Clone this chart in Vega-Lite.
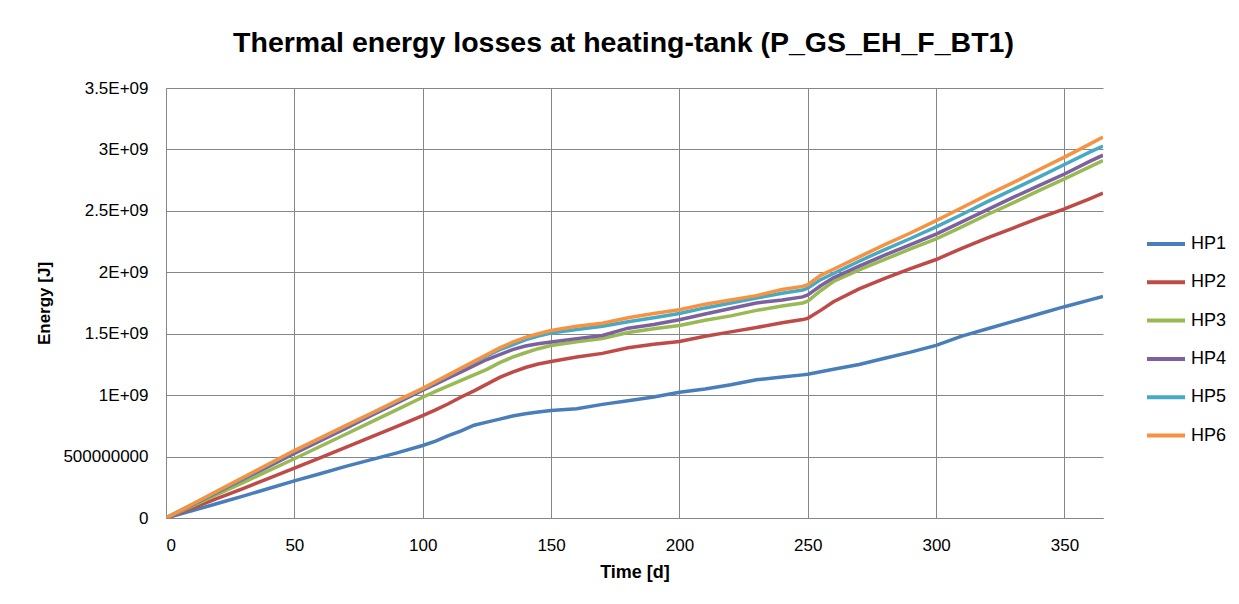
{
  "$schema": "https://vega.github.io/schema/vega-lite/v6.json",
  "width": 937,
  "height": 430,
  "autosize": {"type": "none"},
  "padding": {"left": 166, "top": 88, "right": 136, "bottom": 86},
  "background": "white",
  "title": {
    "text": "Thermal energy losses at heating-tank (P_GS_EH_F_BT1)",
    "font": "Liberation Sans",
    "fontSize": 28.5,
    "fontWeight": "bold",
    "color": "#000000",
    "anchor": "middle",
    "dx": -11,
    "offset": 22
  },
  "config": {
    "view": {"stroke": null},
    "font": "Liberation Sans"
  },
  "data": {
    "values": [
      {"d":0,"s":"HP1","e":0},{"d":10,"s":"HP1","e":0.058e9},{"d":20,"s":"HP1","e":0.118e9},{"d":30,"s":"HP1","e":0.178e9},{"d":40,"s":"HP1","e":0.24e9},{"d":50,"s":"HP1","e":0.302e9},{"d":60,"s":"HP1","e":0.36e9},{"d":70,"s":"HP1","e":0.42e9},{"d":80,"s":"HP1","e":0.475e9},{"d":90,"s":"HP1","e":0.53e9},{"d":100,"s":"HP1","e":0.59e9},{"d":105,"s":"HP1","e":0.625e9},{"d":110,"s":"HP1","e":0.67e9},{"d":115,"s":"HP1","e":0.71e9},{"d":120,"s":"HP1","e":0.755e9},{"d":125,"s":"HP1","e":0.78e9},{"d":130,"s":"HP1","e":0.805e9},{"d":135,"s":"HP1","e":0.83e9},{"d":140,"s":"HP1","e":0.848e9},{"d":145,"s":"HP1","e":0.862e9},{"d":150,"s":"HP1","e":0.875e9},{"d":160,"s":"HP1","e":0.89e9},{"d":170,"s":"HP1","e":0.925e9},{"d":180,"s":"HP1","e":0.955e9},{"d":190,"s":"HP1","e":0.985e9},{"d":200,"s":"HP1","e":1.024e9},{"d":210,"s":"HP1","e":1.05e9},{"d":220,"s":"HP1","e":1.085e9},{"d":230,"s":"HP1","e":1.125e9},{"d":240,"s":"HP1","e":1.148e9},{"d":248,"s":"HP1","e":1.165e9},{"d":250,"s":"HP1","e":1.17e9},{"d":255,"s":"HP1","e":1.19e9},{"d":260,"s":"HP1","e":1.21e9},{"d":270,"s":"HP1","e":1.25e9},{"d":280,"s":"HP1","e":1.3e9},{"d":290,"s":"HP1","e":1.35e9},{"d":300,"s":"HP1","e":1.405e9},{"d":310,"s":"HP1","e":1.48e9},{"d":320,"s":"HP1","e":1.54e9},{"d":330,"s":"HP1","e":1.6e9},{"d":340,"s":"HP1","e":1.66e9},{"d":350,"s":"HP1","e":1.72e9},{"d":360,"s":"HP1","e":1.775e9},{"d":365,"s":"HP1","e":1.803e9},

      {"d":0,"s":"HP2","e":0},{"d":10,"s":"HP2","e":0.078e9},{"d":20,"s":"HP2","e":0.16e9},{"d":30,"s":"HP2","e":0.24e9},{"d":40,"s":"HP2","e":0.322e9},{"d":50,"s":"HP2","e":0.405e9},{"d":60,"s":"HP2","e":0.49e9},{"d":70,"s":"HP2","e":0.575e9},{"d":80,"s":"HP2","e":0.66e9},{"d":90,"s":"HP2","e":0.745e9},{"d":100,"s":"HP2","e":0.834e9},{"d":105,"s":"HP2","e":0.88e9},{"d":110,"s":"HP2","e":0.93e9},{"d":115,"s":"HP2","e":0.985e9},{"d":120,"s":"HP2","e":1.035e9},{"d":125,"s":"HP2","e":1.09e9},{"d":130,"s":"HP2","e":1.145e9},{"d":135,"s":"HP2","e":1.187e9},{"d":140,"s":"HP2","e":1.225e9},{"d":145,"s":"HP2","e":1.253e9},{"d":150,"s":"HP2","e":1.274e9},{"d":160,"s":"HP2","e":1.31e9},{"d":170,"s":"HP2","e":1.34e9},{"d":180,"s":"HP2","e":1.385e9},{"d":190,"s":"HP2","e":1.415e9},{"d":200,"s":"HP2","e":1.437e9},{"d":210,"s":"HP2","e":1.48e9},{"d":220,"s":"HP2","e":1.515e9},{"d":230,"s":"HP2","e":1.55e9},{"d":240,"s":"HP2","e":1.59e9},{"d":248,"s":"HP2","e":1.615e9},{"d":250,"s":"HP2","e":1.625e9},{"d":255,"s":"HP2","e":1.69e9},{"d":260,"s":"HP2","e":1.76e9},{"d":270,"s":"HP2","e":1.865e9},{"d":280,"s":"HP2","e":1.95e9},{"d":290,"s":"HP2","e":2.03e9},{"d":300,"s":"HP2","e":2.104e9},{"d":310,"s":"HP2","e":2.195e9},{"d":320,"s":"HP2","e":2.28e9},{"d":330,"s":"HP2","e":2.36e9},{"d":340,"s":"HP2","e":2.44e9},{"d":350,"s":"HP2","e":2.517e9},{"d":360,"s":"HP2","e":2.6e9},{"d":365,"s":"HP2","e":2.644e9},

      {"d":0,"s":"HP3","e":0},{"d":10,"s":"HP3","e":0.095e9},{"d":20,"s":"HP3","e":0.192e9},{"d":30,"s":"HP3","e":0.288e9},{"d":40,"s":"HP3","e":0.385e9},{"d":50,"s":"HP3","e":0.482e9},{"d":60,"s":"HP3","e":0.582e9},{"d":70,"s":"HP3","e":0.682e9},{"d":80,"s":"HP3","e":0.782e9},{"d":90,"s":"HP3","e":0.882e9},{"d":100,"s":"HP3","e":0.983e9},{"d":105,"s":"HP3","e":1.03e9},{"d":110,"s":"HP3","e":1.075e9},{"d":115,"s":"HP3","e":1.12e9},{"d":120,"s":"HP3","e":1.165e9},{"d":125,"s":"HP3","e":1.21e9},{"d":130,"s":"HP3","e":1.265e9},{"d":135,"s":"HP3","e":1.309e9},{"d":140,"s":"HP3","e":1.345e9},{"d":145,"s":"HP3","e":1.378e9},{"d":150,"s":"HP3","e":1.404e9},{"d":160,"s":"HP3","e":1.435e9},{"d":170,"s":"HP3","e":1.46e9},{"d":180,"s":"HP3","e":1.51e9},{"d":190,"s":"HP3","e":1.54e9},{"d":200,"s":"HP3","e":1.567e9},{"d":210,"s":"HP3","e":1.61e9},{"d":220,"s":"HP3","e":1.645e9},{"d":230,"s":"HP3","e":1.69e9},{"d":240,"s":"HP3","e":1.725e9},{"d":248,"s":"HP3","e":1.75e9},{"d":250,"s":"HP3","e":1.765e9},{"d":255,"s":"HP3","e":1.85e9},{"d":260,"s":"HP3","e":1.925e9},{"d":270,"s":"HP3","e":2.02e9},{"d":280,"s":"HP3","e":2.105e9},{"d":290,"s":"HP3","e":2.19e9},{"d":300,"s":"HP3","e":2.272e9},{"d":310,"s":"HP3","e":2.37e9},{"d":320,"s":"HP3","e":2.47e9},{"d":330,"s":"HP3","e":2.565e9},{"d":340,"s":"HP3","e":2.665e9},{"d":350,"s":"HP3","e":2.761e9},{"d":360,"s":"HP3","e":2.86e9},{"d":365,"s":"HP3","e":2.91e9},

      {"d":0,"s":"HP4","e":0},{"d":10,"s":"HP4","e":0.105e9},{"d":20,"s":"HP4","e":0.21e9},{"d":30,"s":"HP4","e":0.315e9},{"d":40,"s":"HP4","e":0.42e9},{"d":50,"s":"HP4","e":0.525e9},{"d":60,"s":"HP4","e":0.628e9},{"d":70,"s":"HP4","e":0.73e9},{"d":80,"s":"HP4","e":0.835e9},{"d":90,"s":"HP4","e":0.937e9},{"d":100,"s":"HP4","e":1.04e9},{"d":105,"s":"HP4","e":1.09e9},{"d":110,"s":"HP4","e":1.14e9},{"d":115,"s":"HP4","e":1.19e9},{"d":120,"s":"HP4","e":1.24e9},{"d":125,"s":"HP4","e":1.29e9},{"d":130,"s":"HP4","e":1.33e9},{"d":135,"s":"HP4","e":1.37e9},{"d":140,"s":"HP4","e":1.4e9},{"d":145,"s":"HP4","e":1.418e9},{"d":150,"s":"HP4","e":1.432e9},{"d":160,"s":"HP4","e":1.46e9},{"d":170,"s":"HP4","e":1.485e9},{"d":180,"s":"HP4","e":1.545e9},{"d":190,"s":"HP4","e":1.575e9},{"d":200,"s":"HP4","e":1.614e9},{"d":210,"s":"HP4","e":1.66e9},{"d":220,"s":"HP4","e":1.705e9},{"d":230,"s":"HP4","e":1.75e9},{"d":240,"s":"HP4","e":1.775e9},{"d":248,"s":"HP4","e":1.8e9},{"d":250,"s":"HP4","e":1.815e9},{"d":255,"s":"HP4","e":1.89e9},{"d":260,"s":"HP4","e":1.955e9},{"d":270,"s":"HP4","e":2.05e9},{"d":280,"s":"HP4","e":2.14e9},{"d":290,"s":"HP4","e":2.225e9},{"d":300,"s":"HP4","e":2.31e9},{"d":310,"s":"HP4","e":2.41e9},{"d":320,"s":"HP4","e":2.51e9},{"d":330,"s":"HP4","e":2.61e9},{"d":340,"s":"HP4","e":2.705e9},{"d":350,"s":"HP4","e":2.8e9},{"d":360,"s":"HP4","e":2.905e9},{"d":365,"s":"HP4","e":2.953e9},

      {"d":0,"s":"HP5","e":0},{"d":10,"s":"HP5","e":0.108e9},{"d":20,"s":"HP5","e":0.217e9},{"d":30,"s":"HP5","e":0.325e9},{"d":40,"s":"HP5","e":0.435e9},{"d":50,"s":"HP5","e":0.545e9},{"d":60,"s":"HP5","e":0.645e9},{"d":70,"s":"HP5","e":0.748e9},{"d":80,"s":"HP5","e":0.85e9},{"d":90,"s":"HP5","e":0.95e9},{"d":100,"s":"HP5","e":1.05e9},{"d":105,"s":"HP5","e":1.105e9},{"d":110,"s":"HP5","e":1.16e9},{"d":115,"s":"HP5","e":1.215e9},{"d":120,"s":"HP5","e":1.27e9},{"d":125,"s":"HP5","e":1.32e9},{"d":130,"s":"HP5","e":1.37e9},{"d":135,"s":"HP5","e":1.41e9},{"d":140,"s":"HP5","e":1.45e9},{"d":145,"s":"HP5","e":1.48e9},{"d":150,"s":"HP5","e":1.505e9},{"d":160,"s":"HP5","e":1.535e9},{"d":170,"s":"HP5","e":1.56e9},{"d":180,"s":"HP5","e":1.598e9},{"d":190,"s":"HP5","e":1.63e9},{"d":200,"s":"HP5","e":1.665e9},{"d":210,"s":"HP5","e":1.71e9},{"d":220,"s":"HP5","e":1.75e9},{"d":230,"s":"HP5","e":1.79e9},{"d":240,"s":"HP5","e":1.83e9},{"d":248,"s":"HP5","e":1.855e9},{"d":250,"s":"HP5","e":1.87e9},{"d":255,"s":"HP5","e":1.94e9},{"d":260,"s":"HP5","e":1.99e9},{"d":270,"s":"HP5","e":2.09e9},{"d":280,"s":"HP5","e":2.185e9},{"d":290,"s":"HP5","e":2.275e9},{"d":300,"s":"HP5","e":2.37e9},{"d":310,"s":"HP5","e":2.47e9},{"d":320,"s":"HP5","e":2.575e9},{"d":330,"s":"HP5","e":2.675e9},{"d":340,"s":"HP5","e":2.775e9},{"d":350,"s":"HP5","e":2.877e9},{"d":360,"s":"HP5","e":2.98e9},{"d":365,"s":"HP5","e":3.028e9},

      {"d":0,"s":"HP6","e":0},{"d":10,"s":"HP6","e":0.11e9},{"d":20,"s":"HP6","e":0.22e9},{"d":30,"s":"HP6","e":0.33e9},{"d":40,"s":"HP6","e":0.44e9},{"d":50,"s":"HP6","e":0.549e9},{"d":60,"s":"HP6","e":0.65e9},{"d":70,"s":"HP6","e":0.752e9},{"d":80,"s":"HP6","e":0.853e9},{"d":90,"s":"HP6","e":0.955e9},{"d":100,"s":"HP6","e":1.055e9},{"d":105,"s":"HP6","e":1.11e9},{"d":110,"s":"HP6","e":1.165e9},{"d":115,"s":"HP6","e":1.22e9},{"d":120,"s":"HP6","e":1.275e9},{"d":125,"s":"HP6","e":1.33e9},{"d":130,"s":"HP6","e":1.385e9},{"d":135,"s":"HP6","e":1.431e9},{"d":140,"s":"HP6","e":1.47e9},{"d":145,"s":"HP6","e":1.5e9},{"d":150,"s":"HP6","e":1.526e9},{"d":160,"s":"HP6","e":1.56e9},{"d":170,"s":"HP6","e":1.585e9},{"d":180,"s":"HP6","e":1.63e9},{"d":190,"s":"HP6","e":1.665e9},{"d":200,"s":"HP6","e":1.695e9},{"d":210,"s":"HP6","e":1.74e9},{"d":220,"s":"HP6","e":1.775e9},{"d":230,"s":"HP6","e":1.81e9},{"d":240,"s":"HP6","e":1.86e9},{"d":248,"s":"HP6","e":1.885e9},{"d":250,"s":"HP6","e":1.9e9},{"d":255,"s":"HP6","e":1.975e9},{"d":260,"s":"HP6","e":2.025e9},{"d":270,"s":"HP6","e":2.125e9},{"d":280,"s":"HP6","e":2.225e9},{"d":290,"s":"HP6","e":2.32e9},{"d":300,"s":"HP6","e":2.421e9},{"d":310,"s":"HP6","e":2.525e9},{"d":320,"s":"HP6","e":2.63e9},{"d":330,"s":"HP6","e":2.73e9},{"d":340,"s":"HP6","e":2.835e9},{"d":350,"s":"HP6","e":2.937e9},{"d":360,"s":"HP6","e":3.045e9},{"d":365,"s":"HP6","e":3.1e9}
    ]
  },
  "mark": {"type": "line", "strokeWidth": 3.5, "clip": true},
  "encoding": {
    "x": {
      "field": "d",
      "type": "quantitative",
      "scale": {"domain": [0, 365], "nice": false, "zero": false},
      "axis": {
        "title": "Time [d]",
        "values": [0, 50, 100, 150, 200, 250, 300, 350],
        "grid": true,
        "gridColor": "#868686",
        "gridWidth": 1,
        "domainColor": "#868686",
        "ticks": false,
        "labelPadding": 19,
        "labelFontSize": 17,
        "labelColor": "#000000",
        "titleFontSize": 18,
        "titleFontWeight": "bold",
        "titleColor": "#000000",
        "titlePadding": 10
      }
    },
    "y": {
      "field": "e",
      "type": "quantitative",
      "scale": {"domain": [0, 3500000000], "nice": false},
      "axis": {
        "title": "Energy [J]",
        "values": [0, 500000000, 1000000000, 1500000000, 2000000000, 2500000000, 3000000000, 3500000000],
        "labelExpr": "datum.value == 0 ? '0' : (datum.value == 500000000 ? '500000000' : (datum.value / 1000000000) + 'E+09')",
        "grid": true,
        "gridColor": "#868686",
        "gridWidth": 1,
        "domainColor": "#868686",
        "ticks": false,
        "labelPadding": 18,
        "labelFontSize": 17,
        "labelColor": "#000000",
        "titleFontSize": 17,
        "titleFontWeight": "bold",
        "titleColor": "#000000",
        "titlePadding": 9
      }
    },
    "color": {
      "field": "s",
      "type": "nominal",
      "scale": {
        "domain": ["HP1", "HP2", "HP3", "HP4", "HP5", "HP6"],
        "range": ["#4A7EBB", "#BE4B48", "#98B954", "#7D60A0", "#46AAC5", "#F69240"]
      },
      "legend": {
        "title": null,
        "orient": "none",
        "legendX": 979,
        "legendY": 135,
        "symbolType": "stroke",
        "symbolSize": 1444,
        "symbolStrokeWidth": 4,
        "labelFontSize": 18,
        "labelColor": "#000000",
        "labelOffset": 4,
        "rowPadding": 8.3,
        "padding": 0
      }
    }
  }
}
